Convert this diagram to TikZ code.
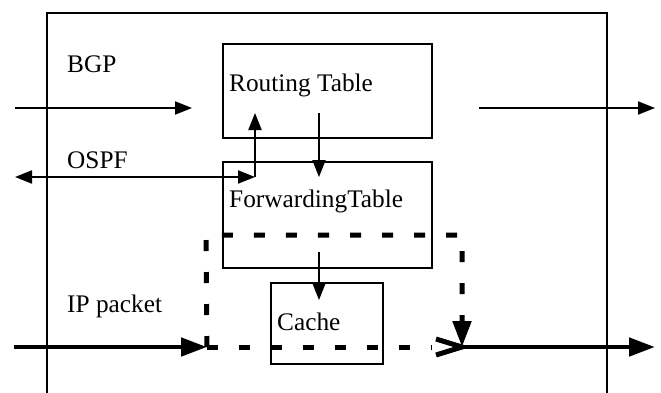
\documentclass[tikz,border=0pt]{standalone}
\usepackage{fontspec}
\setmainfont{Liberation Serif}
\usetikzlibrary{arrows.meta,calc}
\begin{document}
\begin{tikzpicture}[x=1pt,y=-1pt,
  every node/.style={font=\fontsize{25.3}{30}\selectfont},
  box/.style={draw,line width=2pt,inner sep=0pt,minimum width=#1},
  lbl/.style={anchor=base west,inner sep=0pt},
  thin/.style={line width=2pt},
  tip/.style={-{Triangle[length=17pt,width=13pt]}},
  bigtip/.style={-{Triangle[length=26pt,width=18pt]}},
  thick5/.style={line width=4.8pt},
  dash5/.style={line width=5pt,dash pattern=on 11pt off 21pt},
  barb/.style={line width=5pt,line join=miter}]
\useasboundingbox (0,0) rectangle (661,392);
% outer frame
\coordinate (fbl) at (47,395);
\coordinate (ftl) at (47,12.7);
\coordinate (ftr) at (607,12.7);
\coordinate (fbr) at (607,395);
\draw[thin] (fbl) -- (ftl) -- (ftr) -- (fbr);
% boxes
\node[box=209pt,minimum height=94pt] (rt) at (327.5,91) {};
\node[box=209pt,minimum height=106pt] (ft) at (327.5,215) {};
\node[box=112pt,minimum height=81pt] (cache) at (327,323.5) {};
% labels
\node[lbl] (rtl) at (229,91) {Routing Table};
\node[lbl] (ftlb) at (229,207) {ForwardingTable};
\node[lbl] (cachel) at (277,330) {Cache};
\node[lbl] (bgp) at (67,72) {BGP};
\node[lbl] (ospf) at (67,168) {OSPF};
\node[lbl] (ip) at (67,312) {IP packet};
% coordinates
\coordinate (bgpA) at (15,108);
\coordinate (bgpB) at (192,108);
\coordinate (outA) at (479,108);
\coordinate (outB) at (655,108);
\coordinate (ospfA) at (15,177);
\coordinate (ospfB) at (255,177);
\coordinate (ospfC) at (255,113);
\coordinate (rfA) at (319,113);
\coordinate (rfB) at (319,177);
\coordinate (fcA) at (319,252);
\coordinate (fcB) at (319,300);
\coordinate (ipA) at (14,347);
\coordinate (ipB) at (207,347);
\coordinate (dTL) at (206,235);
\coordinate (dTR) at (462,235);
\coordinate (dBR) at (462,347);
\coordinate (outC) at (655,347);
% connectors
\draw[thin,tip] (bgpA) -- (bgpB);
\draw[thin,tip] (outA) -- (outB);
\draw[thin,{Triangle[length=17pt,width=13pt]}-{Triangle[length=17pt,width=13pt]}] (ospfA) -- (ospfB);
\draw[thin,tip] (ospfB) -- (ospfC);
\draw[thin,tip] (rfA) -- (rfB);
\draw[thin,tip] (fcA) -- (fcB);
\draw[thick5,bigtip] (ipA) -- (ipB);
\draw[dash5,bigtip] (ipB) -- (dTL) -- (dTR) -- (dBR);
\draw[dash5] (ipB) -- ($(dBR)+(-30,0)$);
\draw[barb] ($(dBR)+(-26,-8)$) -- (dBR) -- ($(dBR)+(-26,8)$);
\draw[thick5,bigtip] (dBR) -- (outC);
\end{tikzpicture}
\end{document}
